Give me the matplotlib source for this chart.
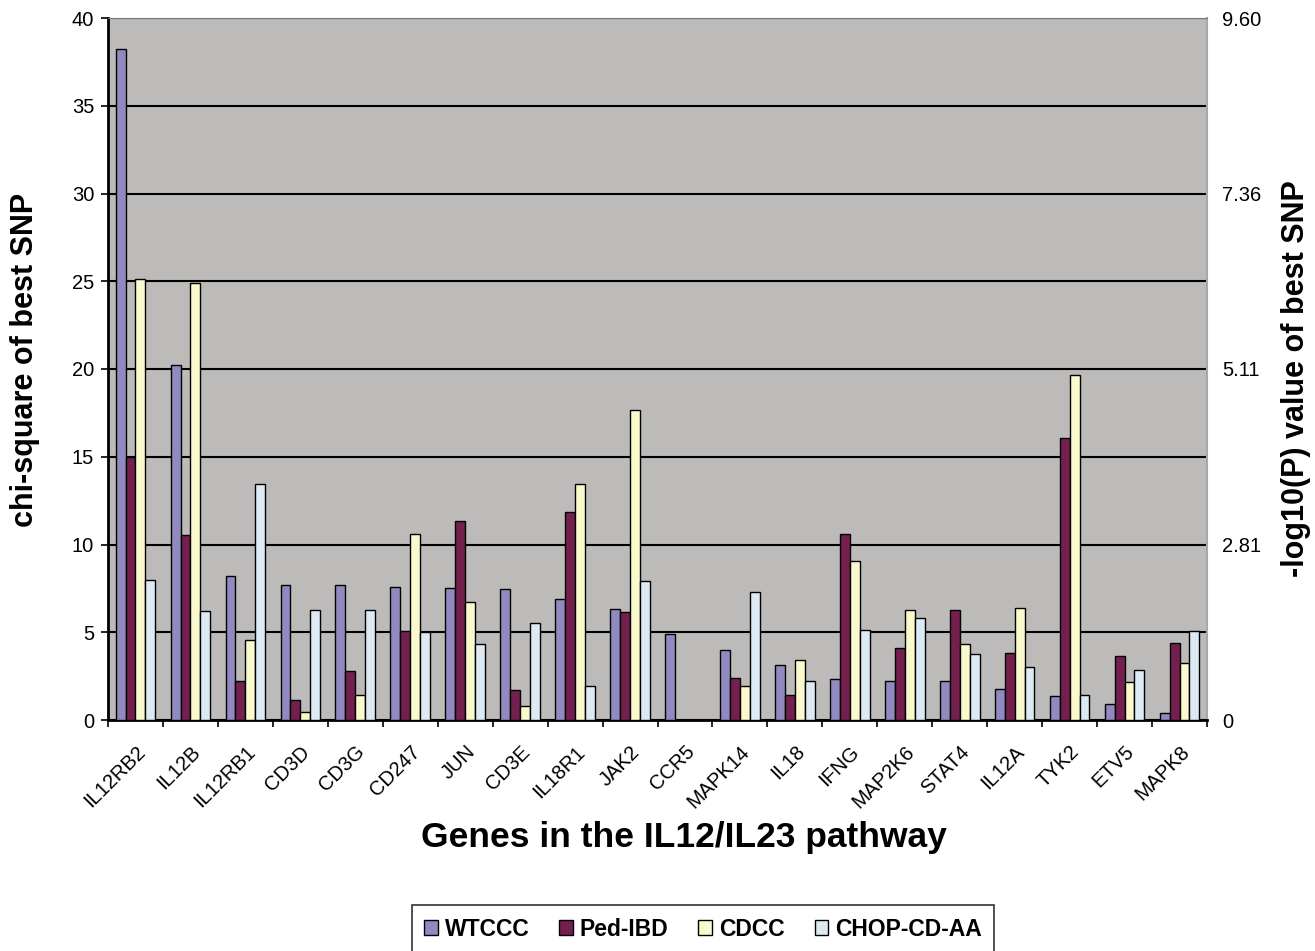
import numpy as np
import matplotlib
matplotlib.use('Agg')
import matplotlib.pyplot as plt

plt.rcParams['font.family'] = ['Liberation Sans', 'DejaVu Sans']

genes = ['IL12RB2', 'IL12B', 'IL12RB1', 'CD3D', 'CD3G', 'CD247', 'JUN', 'CD3E',
         'IL18R1', 'JAK2', 'CCR5', 'MAPK14', 'IL18', 'IFNG', 'MAP2K6', 'STAT4',
         'IL12A', 'TYK2', 'ETV5', 'MAPK8']

wtccc = [38.25, 20.2, 8.2, 7.7, 7.7, 7.56, 7.5, 7.45, 6.9, 6.34,
         4.88, 3.98, 3.14, 2.34, 2.21, 2.21, 1.77, 1.35, 0.93, 0.38]
ped_ibd = [14.96, 10.56, 2.2, 1.14, 2.79, 5.09, 11.33, 1.7, 11.83, 6.18,
           0, 2.38, 1.43, 10.6, 4.11, 6.24, 3.81, 16.08, 3.63, 4.38]
cdcc = [25.1, 24.9, 4.54, 0.48, 1.4, 10.6, 6.74, 0.77, 13.47, 17.69,
        0, 1.96, 3.43, 9.04, 6.24, 4.34, 6.39, 19.68, 2.19, 3.27]
chop = [7.98, 6.2, 13.42, 6.29, 6.29, 5.01, 4.35, 5.54, 1.96, 7.9,
        0, 7.29, 2.25, 5.12, 5.8, 3.75, 3.04, 1.43, 2.85, 5.08]

series_names = ['WTCCC', 'Ped-IBD', 'CDCC', 'CHOP-CD-AA']
colors = ['#918ac0', '#74204f', '#faf8cd', '#ddeaf4']

left_ticks = [0, 5, 10, 15, 20, 25, 30, 35, 40]
right_ticks = [0, 10, 20, 30, 40]
right_labels = ['0', '2.81', '5.11', '7.36', '9.60']

fig = plt.figure(figsize=(13.15, 9.51), dpi=100)
ax = fig.add_axes([108 / 1315, 1 - 720 / 951, (1207 - 108) / 1315, (720 - 18) / 951])
ax.set_facecolor('#bdbbb9')

x = np.arange(len(genes))
w = 0.18
for i, (vals, name, c) in enumerate(zip([wtccc, ped_ibd, cdcc, chop], series_names, colors)):
    # zero values are not drawn (no visible bar in the original)
    h = np.where(np.array(vals) > 0, vals, np.nan)
    ax.bar(x + (i - 1.5) * w, h, width=w, color=c, edgecolor='black',
           linewidth=1.0, label=name, zorder=3)

ax.set_xlim(-0.5, len(genes) - 0.5)
ax.set_ylim(0, 40)
ax.set_yticks(left_ticks)
ax.yaxis.grid(True, color='black', linewidth=1.5, zorder=0)
ax.set_axisbelow(True)

ax.set_xticks(x)
ax.set_xticklabels(genes, rotation=45, ha='right', rotation_mode='anchor', fontsize=14.5)
ax.set_xticks(np.arange(-0.5, len(genes)), minor=True)
ax.tick_params(axis='x', which='major', length=0, pad=16)
ax.tick_params(axis='x', which='minor', length=5, width=1.2, direction='out')
ax.tick_params(axis='y', labelsize=14.5, length=5, width=1.2, direction='out', pad=5)

ax.spines['top'].set_color('#7a7a7a')
ax.spines['right'].set_color('#a8a8a8')
ax.spines['right'].set_linewidth(1.5)
ax.spines['left'].set_linewidth(2)
ax.spines['bottom'].set_linewidth(2)

ax2 = ax.twinx()
ax2.set_ylim(0, 40)
ax2.set_yticks(right_ticks)
ax2.set_yticklabels(right_labels, fontsize=14.5)
ax2.tick_params(axis='y', length=0, pad=11)
for side in ['top', 'right', 'left', 'bottom']:
    ax2.spines[side].set_visible(False)

fig.text(25 / 1315, 1 - 360 / 951, 'chi-square of best SNP', rotation=90,
         ha='center', va='center', fontsize=22, fontweight='bold')
fig.text(1296 / 1315, 1 - 379 / 951, '-log10(P) value of best SNP', rotation=90,
         ha='center', va='center', fontsize=22, fontweight='bold')
fig.text(684 / 1315, 1 - 838 / 951, 'Genes in the IL12/IL23 pathway',
         ha='center', va='center', fontsize=25.5, fontweight='bold')

leg = ax.legend(loc='upper center', bbox_to_anchor=(703 / 1315, 1 - 905 / 951),
                bbox_transform=fig.transFigure, ncol=4, frameon=True, fancybox=False,
                prop={'size': 16.5, 'weight': 'bold'}, handlelength=0.6, handleheight=0.6,
                handletextpad=0.3, columnspacing=1.3, borderpad=0.55, borderaxespad=0)
leg.get_frame().set_edgecolor('black')
leg.get_frame().set_linewidth(1.2)

fig.savefig('out.png', dpi=100)
